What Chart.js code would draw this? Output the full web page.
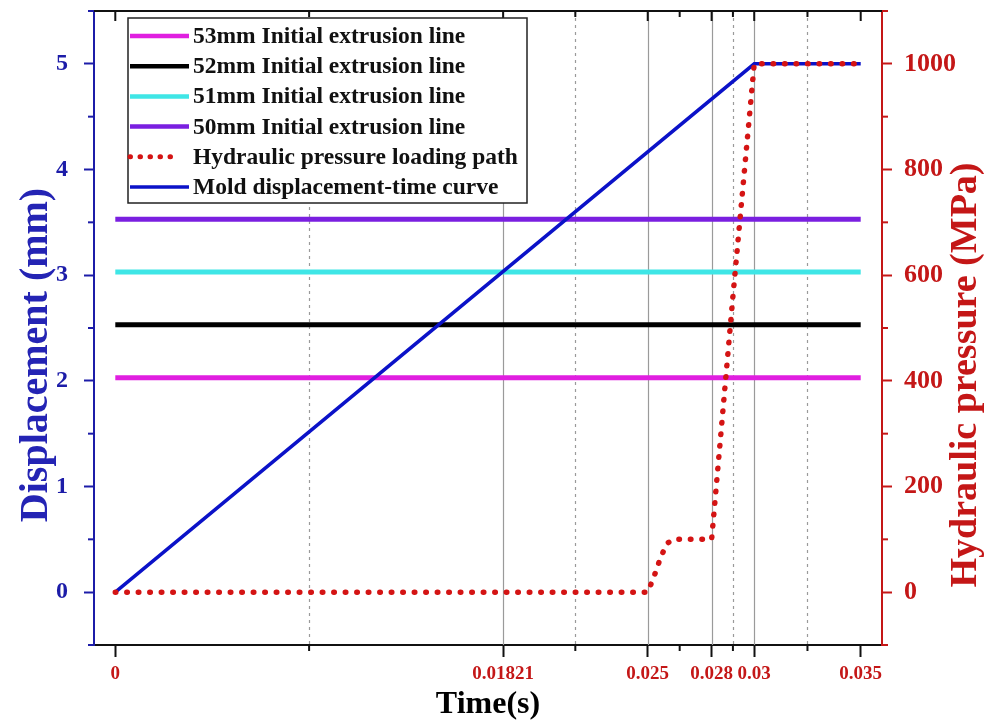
<!DOCTYPE html>
<html>
<head>
<meta charset="utf-8">
<script src="https://cdn.jsdelivr.net/npm/chart.js@4.4.1/dist/chart.umd.min.js"></script>
<style>
  html, body { margin: 0; padding: 0; background: #fff; }
  #wrap { width: 998px; height: 725px; }
</style>
</head>
<body>
<div id="wrap"><canvas id="chart" width="998" height="725"></canvas></div>
<script>
// time axis (s)
const timeTicks = [0, 0.01821, 0.025, 0.028, 0.03, 0.035];
const timeMinorTicks = [0.0091, 0.0216, 0.0265, 0.029, 0.0325];
const solidGuides = [0.01821, 0.025, 0.028, 0.03];
const dashedGuides = [0.0091, 0.0216, 0.029, 0.0325];

// displacement (mm) and pressure (MPa) axes
const dispTicks = [0, 1, 2, 3, 4, 5];
const dispMinorTicks = [-0.5, 0.5, 1.5, 2.5, 3.5, 4.5, 5.5];
const pressureTicks = [0, 200, 400, 600, 800, 1000];
const pressureMinorTicks = [-100, 100, 300, 500, 700, 900, 1100];

// initial extrusion lines, flat from t=0 to t=0.035
const extrusionNames = ['53mm Initial extrusion line', '52mm Initial extrusion line', '51mm Initial extrusion line', '50mm Initial extrusion line'];
const extrusionLevels = [2.03, 2.53, 3.03, 3.53];
const extrusionColors = ['#e01fe0', '#000000', '#3fe6e6', '#7a1fe0'];
const extrusionSpan = [0, 0.035];

// mold displacement vs time
const moldTime = [0, 0.03, 0.035];
const moldDisp = [0, 5, 5];

// hydraulic pressure loading path
const pressTime = [0, 0.025, 0.0253, 0.0256, 0.0259, 0.0262, 0.028, 0.0285, 0.029, 0.0295, 0.03, 0.035];
const pressValue = [0, 0, 30, 65, 92, 100, 100, 330, 560, 780, 1000, 1000];

const BLUE = '#1c1ca8';
const RED = '#c41717';
const SERIF = '"Liberation Serif", "Times New Roman", serif';

const datasets = extrusionNames.map((name, i) => ({
  label: name,
  data: extrusionSpan.map(t => ({ x: t, y: extrusionLevels[i] })),
  borderColor: extrusionColors[i],
  borderWidth: 5,
  yAxisID: 'y',
  order: 3
}));

datasets.push({
  label: 'Hydraulic pressure loading path',
  data: pressTime.map((t, i) => ({ x: t, y: pressValue[i] })),
  borderColor: '#d41414',
  borderWidth: 5.5,
  borderDash: [0.5, 11],
  borderCapStyle: 'round',
  borderJoinStyle: 'round',
  yAxisID: 'y1',
  order: 1
});

datasets.push({
  label: 'Mold displacement-time curve',
  data: moldTime.map((t, i) => ({ x: t, y: moldDisp[i] })),
  borderColor: '#0b12c8',
  borderWidth: 3.5,
  yAxisID: 'y',
  order: 2
});

function line(ctx, x1, y1, x2, y2, color, width, dash) {
  ctx.save();
  ctx.strokeStyle = color;
  ctx.lineWidth = width;
  ctx.setLineDash(dash || []);
  ctx.beginPath();
  ctx.moveTo(x1, y1);
  ctx.lineTo(x2, y2);
  ctx.stroke();
  ctx.restore();
}

function verticalTitle(ctx, text, x, y, size, color) {
  ctx.save();
  ctx.translate(x, y);
  ctx.rotate(-Math.PI / 2);
  ctx.font = 'bold ' + size + 'px ' + SERIF;
  ctx.fillStyle = color;
  ctx.textAlign = 'center';
  ctx.textBaseline = 'middle';
  ctx.fillText(text, 0, 0);
  ctx.restore();
}

// keep the plot frame where it is, regardless of label overhang
function fixedBox(size) {
  return s => {
    if (s.isHorizontal()) s.height = size; else s.width = size;
    s.paddingTop = 0;
    s.paddingBottom = 0;
    s.paddingLeft = 0;
    s.paddingRight = 0;
  };
}

const framePlugin = {
  id: 'frame',
  beforeDatasetsDraw(chart) {
    const { ctx, chartArea: a, scales: { x } } = chart;
    solidGuides.forEach(t => {
      const px = Math.round(x.getPixelForValue(t)) + 0.5;
      line(ctx, px, a.top, px, a.bottom, '#9a9a9a', 1.2);
    });
    dashedGuides.forEach(t => {
      const px = Math.round(x.getPixelForValue(t)) + 0.5;
      line(ctx, px, a.top, px, a.bottom, '#9a9a9a', 1.2, [3, 4]);
    });
  },
  afterDraw(chart) {
    const { ctx, chartArea: a, scales: { x, y, y1 } } = chart;

    // top frame with inward ticks
    line(ctx, a.left, a.top, a.right, a.top, '#111', 2);
    timeTicks.forEach(t => {
      const px = x.getPixelForValue(t);
      line(ctx, px, a.top, px, a.top + 10, '#111', 2);
    });
    timeMinorTicks.forEach(t => {
      const px = x.getPixelForValue(t);
      line(ctx, px, a.top, px, a.top + 6, '#111', 2);
      line(ctx, px, a.bottom, px, a.bottom + 6, '#111', 2);
    });
    dispMinorTicks.forEach(v => {
      const py = y.getPixelForValue(v);
      line(ctx, a.left - 6, py, a.left, py, BLUE, 2);
    });
    pressureMinorTicks.forEach(v => {
      const py = y1.getPixelForValue(v);
      line(ctx, a.right, py, a.right + 6, py, RED, 2);
    });

    verticalTitle(ctx, 'Displacement (mm)', 37, 355, 40, '#2424b4');
    verticalTitle(ctx, 'Hydraulic pressure (MPa)', 966, 375, 38, RED);

    // legend box
    const bx = 128, by = 18, bw = 399, bh = 185;
    ctx.save();
    ctx.fillStyle = '#fff';
    ctx.fillRect(bx, by, bw, bh);
    ctx.strokeStyle = '#222';
    ctx.lineWidth = 1.5;
    ctx.strokeRect(bx, by, bw, bh);
    ctx.font = 'bold 23.5px ' + SERIF;
    ctx.textBaseline = 'middle';
    ctx.fillStyle = '#111';
    chart.data.datasets.forEach((ds, i) => {
      const ry = 36 + i * 30.2;
      ctx.save();
      ctx.strokeStyle = ds.borderColor;
      ctx.lineWidth = ds.borderDash ? 5 : Math.min(ds.borderWidth, 4.5);
      ctx.lineCap = ds.borderCapStyle || 'butt';
      ctx.setLineDash(ds.borderDash ? [0.5, 9.5] : []);
      ctx.beginPath();
      ctx.moveTo(bx + 2, ry);
      ctx.lineTo(bx + (ds.borderDash ? 52 : 61), ry);
      ctx.stroke();
      ctx.restore();
      ctx.fillText(ds.label, bx + 65, ry + 1);
    });
    ctx.restore();
  }
};

new Chart(document.getElementById('chart'), {
  type: 'line',
  data: { datasets },
  options: {
    responsive: false,
    animation: false,
    layout: { padding: { top: 11 } },
    elements: { point: { radius: 0 }, line: { tension: 0 } },
    plugins: { legend: { display: false }, tooltip: { enabled: false } },
    scales: {
      x: {
        type: 'linear',
        position: 'bottom',
        min: -0.001,
        max: 0.036,
        afterBuildTicks: s => { s.ticks = timeTicks.map(v => ({ value: v })); },
        afterFit: fixedBox(80),
        ticks: {
          autoSkip: false,
          maxRotation: 0,
          padding: 6,
          color: RED,
          font: { family: SERIF, size: 19, weight: 'bold' },
          callback: v => String(v)
        },
        grid: { drawOnChartArea: false, tickLength: 12, tickWidth: 2, tickColor: '#111' },
        border: { color: '#111', width: 2 },
        title: {
          display: true,
          text: 'Time(s)',
          color: '#000',
          font: { family: SERIF, size: 32, weight: 'bold' },
          padding: { top: 0, bottom: 1 }
        }
      },
      y: {
        position: 'left',
        min: -0.5,
        max: 5.5,
        afterBuildTicks: s => { s.ticks = dispTicks.map(v => ({ value: v })); },
        afterFit: fixedBox(94),
        ticks: {
          padding: 16,
          color: BLUE,
          font: { family: SERIF, size: 24, weight: 'bold' },
          callback: v => String(v)
        },
        grid: { drawOnChartArea: false, tickLength: 10, tickWidth: 2, tickColor: BLUE },
        border: { color: BLUE, width: 2 }
      },
      y1: {
        position: 'right',
        min: -100,
        max: 1100,
        afterBuildTicks: s => { s.ticks = pressureTicks.map(v => ({ value: v })); },
        afterFit: fixedBox(116),
        ticks: {
          padding: 12,
          color: RED,
          font: { family: SERIF, size: 26, weight: 'bold' },
          callback: v => String(v)
        },
        grid: { drawOnChartArea: false, tickLength: 10, tickWidth: 2, tickColor: RED },
        border: { color: RED, width: 2 }
      }
    }
  },
  plugins: [framePlugin]
});
</script>
</body>
</html>
